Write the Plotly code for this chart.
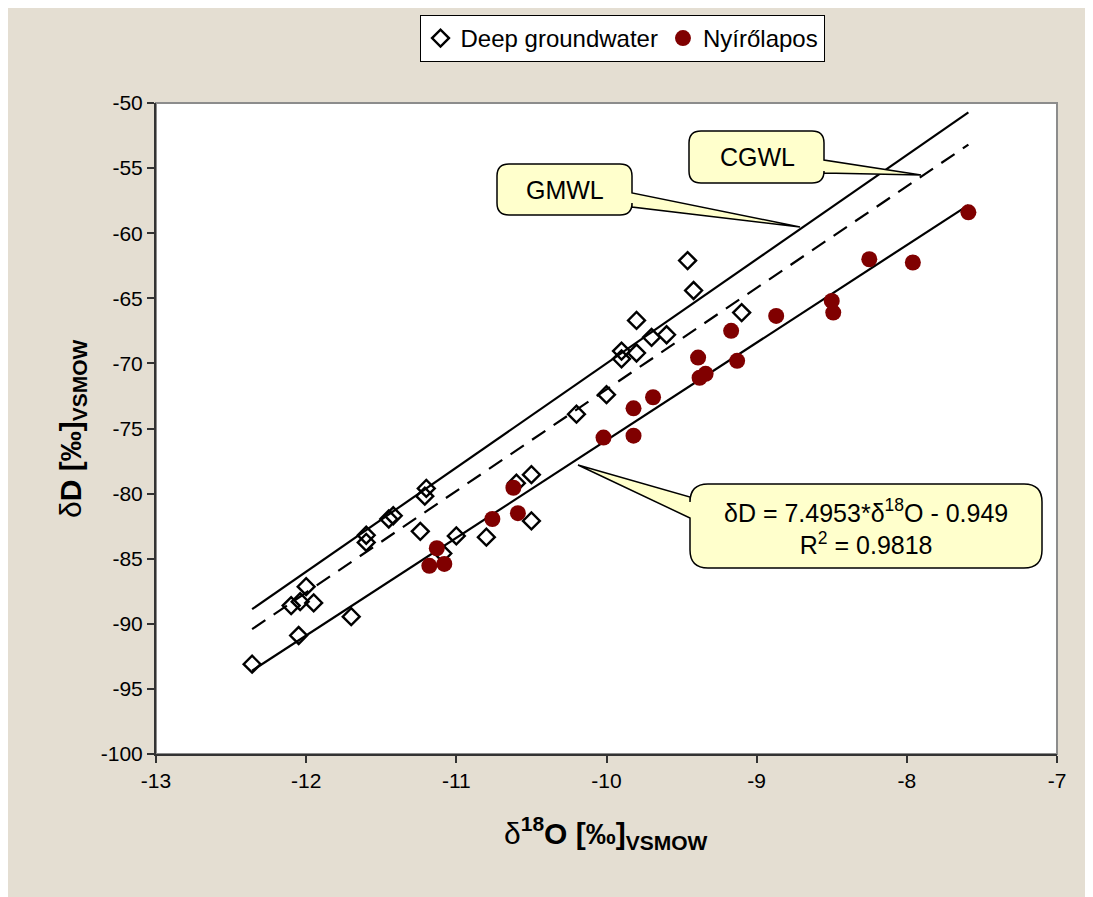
import plotly.graph_objects as go

# ---------------- data ----------------
deep_x = [-12.36, -12.05, -11.70, -12.10, -12.04, -11.95, -12.00, -11.60, -11.60, -11.45,
          -11.42, -11.24, -11.20, -11.21, -11.00, -10.80, -11.09, -10.50, -10.50, -10.60,
          -10.20, -10.00, -9.90, -9.90, -9.80, -9.80, -9.70, -9.60, -9.46, -9.42, -9.10]
deep_y = [-93.1, -90.9, -89.45, -88.6, -88.3, -88.4, -87.15, -83.2, -83.75, -81.95,
          -81.7, -82.9, -79.6, -80.2, -83.25, -83.35, -84.6, -78.55, -82.1, -79.2,
          -73.9, -72.4, -69.05, -69.65, -69.2, -66.7, -68.0, -67.8, -62.1, -64.4, -66.1]

nyir_x = [-11.13, -11.18, -11.08, -10.76, -10.62, -10.59, -10.02, -9.82, -9.82, -9.69,
          -9.39, -9.38, -9.34, -9.17, -9.13, -8.87, -8.50, -8.49, -8.25, -7.96, -7.59]
nyir_y = [-84.2, -85.55, -85.4, -81.95, -79.55, -81.5, -75.7, -75.55, -73.45, -72.6,
          -69.55, -71.1, -70.8, -67.5, -69.8, -66.35, -65.2, -66.1, -62.0, -62.25, -58.4]

# line equations (slope, intercept)
gmwl = (8.0, 10.0)
cgwl = (7.8, 6.0)
trend = (7.4953, -0.949)

x_ticks = [-13, -12, -11, -10, -9, -8, -7]
y_ticks = [-50, -55, -60, -65, -70, -75, -80, -85, -90, -95, -100]

# ---------------- layout geometry (screen pixel coords, page offset 8px) ----------------
W, H = 1093, 897
OFF = 8
PL, PR, PT, PB = 156, 1057, 103, 754   # plot area edges on screen
L, R, T, B = PL - OFF, (W + OFF) - PR, PT - OFF, (H + OFF) - PB
XR = [-13, -7]
YR = [-100, -50]
PW, PH = PR - PL, PB - PT


def px2x(px):
    return XR[0] + (px - PL) / PW * (XR[1] - XR[0])


def py2y(py):
    return YR[1] - (py - PT) / PH * (YR[1] - YR[0])


def bubble(x0, y0, x1, y1, r, side, w0, w1, tip):
    """rounded box with wedge pointer, given in screen pixel coords, returned as data-coord path"""
    def p(a, b):
        return f"{px2x(a):.5f},{py2y(b):.5f}"
    s = f"M{p(x0 + r, y0)} L{p(x1 - r, y0)} Q{p(x1, y0)} {p(x1, y0 + r)} "
    if side == "right":
        s += f"L{p(x1, w0)} L{p(*tip)} L{p(x1, w1)} "
    s += f"L{p(x1, y1 - r)} Q{p(x1, y1)} {p(x1 - r, y1)} L{p(x0 + r, y1)} Q{p(x0, y1)} {p(x0, y1 - r)} "
    if side == "left":
        s += f"L{p(x0, w1)} L{p(*tip)} L{p(x0, w0)} "
    s += f"L{p(x0, y0 + r)} Q{p(x0, y0)} {p(x0 + r, y0)} Z"
    return s


FONT = "Arial, Liberation Sans, sans-serif"

fig = go.Figure()

xmin = min(deep_x + nyir_x)
xmax = max(deep_x + nyir_x)
for (m, c), dash in [(gmwl, "solid"), (cgwl, "16px,10px"), (trend, "solid")]:
    fig.add_trace(go.Scatter(
        x=[xmin, xmax], y=[m * xmin + c, m * xmax + c], mode="lines",
        line=dict(color="black", width=2.2, dash=dash), showlegend=False, hoverinfo="skip"))

fig.add_trace(go.Scatter(
    x=deep_x, y=deep_y, mode="markers", name="Deep groundwater",
    marker=dict(symbol="diamond-open", size=13, color="black", line=dict(width=2.4, color="black"))))
fig.add_trace(go.Scatter(
    x=nyir_x, y=nyir_y, mode="markers", name="Nyírőlapos",
    marker=dict(symbol="circle", size=16, color="#800000", line=dict(width=0))))

fill = "#FFFFCC"
shapes = [
    dict(type="rect", xref="paper", yref="paper", x0=0, y0=0, x1=1, y1=1,
         line=dict(color="#8c8c8c", width=2), fillcolor="rgba(0,0,0,0)", layer="below"),
    dict(type="path", xref="x", yref="y",
         path=bubble(497, 164, 632, 215, 12, "right", 193, 207, (800, 227)),
         fillcolor=fill, line=dict(color="black", width=1.5)),
    dict(type="path", xref="x", yref="y",
         path=bubble(689, 131, 824, 183, 12, "right", 160, 173, (921, 175)),
         fillcolor=fill, line=dict(color="black", width=1.5)),
    dict(type="path", xref="x", yref="y",
         path=bubble(690, 484, 1042, 568, 18, "left", 497, 518, (578, 465)),
         fillcolor=fill, line=dict(color="black", width=1.5)),
]

annotations = [
    dict(x=px2x(565), y=py2y(190), xref="x", yref="y", text="GMWL", showarrow=False,
         font=dict(family=FONT, size=25, color="black")),
    dict(x=px2x(757), y=py2y(157), xref="x", yref="y", text="CGWL", showarrow=False,
         font=dict(family=FONT, size=25, color="black")),
    dict(x=px2x(866), y=py2y(527), xref="x", yref="y",
         text="δD = 7.4953*δ<sup>18</sup>O - 0.949<br>R<sup>2</sup> = 0.9818",
         showarrow=False, align="center",
         font=dict(family=FONT, size=25, color="black")),
    dict(x=(606 - PL) / PW, y=(PB - 856) / PH, xref="paper", yref="paper",
         text="δ<b><sup>18</sup>O [‰]<sub>VSMOW</sub></b>", showarrow=False,
         font=dict(family=FONT, size=30, color="black")),
    dict(x=(52 - PL) / PW, y=0.5, xref="paper", yref="paper", textangle=-90,
         text="δ<b>D [‰]<sub>VSMOW</sub></b>", showarrow=False,
         font=dict(family=FONT, size=30, color="black")),
]

fig.update_layout(
    width=W, height=H, margin=dict(l=L, r=R, t=T, b=B, autoexpand=False),
    paper_bgcolor="#E4DED2", plot_bgcolor="white",
    font=dict(family=FONT, size=21, color="black"),
    shapes=shapes, annotations=annotations,
    legend=dict(orientation="h", x=(622 - PL) / PW, xanchor="center", y=1 + (PT - 15) / PH,
                yanchor="top", bgcolor="white", bordercolor="black", borderwidth=1,
                font=dict(family=FONT, size=24, color="black"), itemwidth=30,
                tracegroupgap=0),
)
fig.update_xaxes(range=XR, tickvals=x_ticks, ticktext=[str(v) for v in x_ticks],
                 showgrid=False, zeroline=False, showline=True, linecolor="#333333", linewidth=2,
                 ticks="outside", ticklen=7, tickcolor="#333333", tickwidth=1.5,
                 tickfont=dict(family=FONT, size=21, color="black"))
fig.update_yaxes(range=YR, tickvals=y_ticks, ticktext=[str(v) for v in y_ticks],
                 showgrid=False, zeroline=False, showline=True, linecolor="#333333", linewidth=2,
                 ticks="outside", ticklen=7, tickcolor="#333333", tickwidth=1.5,
                 tickfont=dict(family=FONT, size=21, color="black"))

fig.write_html("out.html")
